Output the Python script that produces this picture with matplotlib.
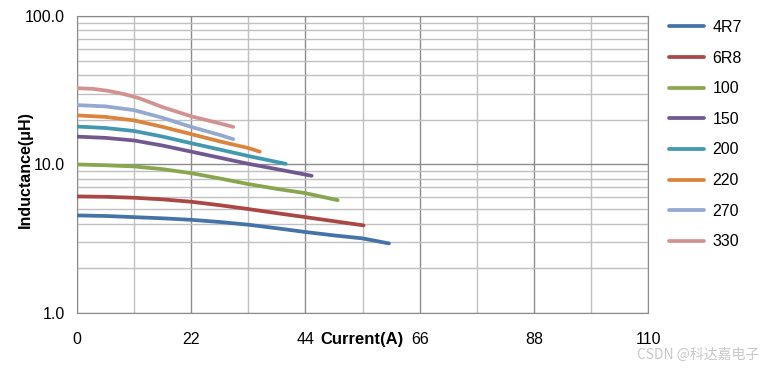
import matplotlib.pyplot as plt
from matplotlib.ticker import FixedLocator, NullFormatter

plt.rcParams['font.family'] = ['Liberation Sans', 'DejaVu Sans']

# Inductance vs current curves
labels = ['4R7', '6R8', '100', '150', '200', '220', '270', '330']
colors = ['#4572A7', '#AA4643', '#89A54E', '#71588F', '#4198AF', '#DB843D', '#93A9CF', '#D19392']

i_4r7 = [0, 5.5, 11, 16.5, 22, 27.5, 33, 38.5, 44, 49.5, 55, 60.1]
l_4r7 = [4.54, 4.50, 4.42, 4.34, 4.24, 4.10, 3.93, 3.72, 3.51, 3.33, 3.18, 2.94]
i_6r8 = [0, 5.5, 11, 16.5, 22, 27.5, 33, 38.5, 44, 49.5, 55.2]
l_6r8 = [6.09, 6.06, 5.97, 5.82, 5.61, 5.32, 5.01, 4.70, 4.42, 4.15, 3.89]
i_100 = [0, 5.5, 11, 16.5, 22, 27.5, 33, 38.5, 44, 50.2]
l_100 = [10.0, 9.88, 9.70, 9.30, 8.74, 8.05, 7.38, 6.85, 6.41, 5.75]
i_150 = [0, 5.5, 11, 16.5, 22, 27.5, 33, 38.5, 45.2]
l_150 = [15.4, 15.1, 14.5, 13.4, 12.2, 11.1, 10.1, 9.3, 8.39]
i_200 = [0, 5.5, 11, 16.5, 22, 27.5, 33, 40.2]
l_200 = [18.0, 17.6, 16.8, 15.4, 13.9, 12.6, 11.4, 10.1]
i_220 = [0, 5.5, 11, 16.5, 22, 27.5, 33, 35.2]
l_220 = [21.4, 20.9, 19.8, 17.9, 16.0, 14.3, 12.9, 12.2]
i_270 = [0, 5.5, 11, 16.5, 22, 27.5, 30.1]
l_270 = [25.1, 24.6, 23.2, 20.6, 17.9, 15.8, 14.8]
i_330 = [0, 3, 6, 9, 12, 16.5, 22, 27.5, 30.1]
l_330 = [32.6, 32.3, 31.3, 29.8, 27.9, 24.3, 21.1, 18.9, 17.9]

currents = [i_4r7, i_6r8, i_100, i_150, i_200, i_220, i_270, i_330]
inductances = [l_4r7, l_6r8, l_100, l_150, l_200, l_220, l_270, l_330]

x_ticks = [0, 22, 44, 66, 88, 110]
y_ticks = [1, 10, 100]
y_tick_labels = ['1.0', '10.0', '100.0']

fig = plt.figure(figsize=(7.67, 3.70), dpi=100)
ax = fig.add_axes([0.1004, 0.154, 0.7445, 0.803])

for x, y, c, lab in zip(currents, inductances, colors, labels):
    ax.plot(x, y, color=c, lw=2.7, label=lab, solid_capstyle='round', zorder=3)

ax.set_yscale('log')
ax.set_xlim(0, 110)
ax.set_ylim(1, 100)

ax.xaxis.set_major_locator(FixedLocator(x_ticks))
ax.xaxis.set_minor_locator(FixedLocator([11, 33, 55, 77, 99]))
ax.set_yticks(y_ticks)
ax.set_yticklabels(y_tick_labels)
ax.yaxis.set_minor_locator(FixedLocator([m * d for d in (1, 10) for m in range(2, 10)]))
ax.yaxis.set_minor_formatter(NullFormatter())

ax.grid(which='major', color='#8c8c8c', lw=1.0)
ax.grid(which='minor', color='#c0c0c0', lw=1.0)
ax.set_axisbelow(True)
ax.tick_params(which='both', length=0, labelsize=11.5)
ax.tick_params(axis='x', pad=14)
ax.tick_params(axis='y', pad=9)
for s in ax.spines.values():
    s.set_color('#8c8c8c')

fig.text(25 / 767, 1 - 170 / 370, 'Inductance(μH)', rotation=90, fontsize=11.5,
         fontweight='bold', ha='center', va='center')
ax.text(0.427, -0.09, 'Current(A)', transform=ax.transAxes, fontsize=12,
        fontweight='bold', ha='left', va='center')

leg = ax.legend(loc='upper left', bbox_to_anchor=(1.012, 1.035), frameon=False,
                fontsize=11.5, handlelength=2.2, labelspacing=0.98, handletextpad=0.5)

fig.text(0.99, 0.04, 'CSDN @科达嘉电子', ha='right', va='center', fontsize=10,
         color='#c8c8c8', family=['Noto Sans CJK SC', 'DejaVu Sans'])

fig.savefig('out.png', dpi=100)
